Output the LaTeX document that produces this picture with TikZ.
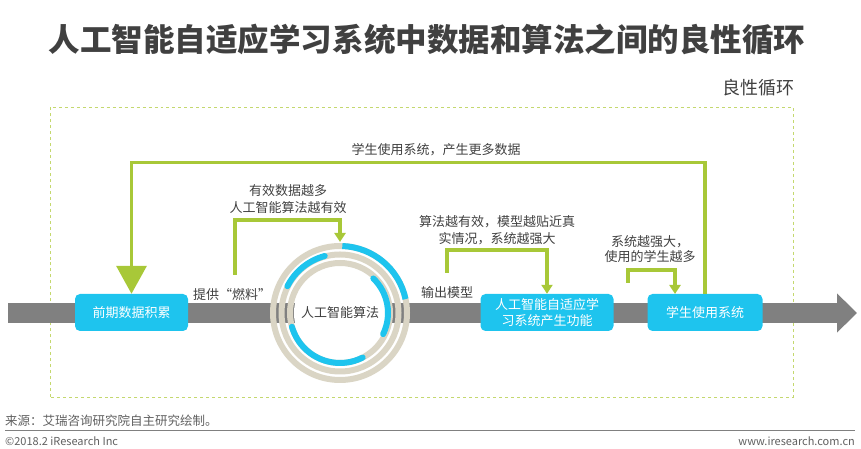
\documentclass[tikz,border=0pt]{standalone}
\usepackage{fontspec}
\setmainfont{Noto Sans CJK SC}
\usepackage{tikz}
\usetikzlibrary{arrows,arrows.meta,positioning}

\definecolor{txt}{RGB}{64,64,64}
\definecolor{bargray}{RGB}{128,128,128}
\definecolor{skyblue}{RGB}{30,196,238}
\definecolor{leaf}{RGB}{168,200,56}
\definecolor{frameleaf}{RGB}{196,216,110}
\definecolor{sand}{RGB}{218,213,197}
\definecolor{footgray}{RGB}{96,96,96}

\begin{document}
\begin{tikzpicture}[x=1bp,y=1bp,>=stealth',auto]
		\tikzstyle{box}=[rectangle, rounded corners=5bp, fill=skyblue, text=white, minimum height=37bp, inner sep=0pt, align=center, font=\fontsize{13bp}{16bp}\selectfont]
		\tikzstyle{lbl}=[inner sep=0pt, align=center, text=txt, font=\fontsize{13bp}{17bp}\selectfont]
		\tikzstyle{foot}=[inner sep=0pt, text=footgray, font=\fontsize{11bp}{13bp}\selectfont]
		\tikzstyle{flow}=[draw=bargray, line width=20bp, -{Triangle[length=20bp,width=38bp]}]
		\tikzstyle{feed}=[draw=leaf, line width=3.5bp, -{Triangle[length=9bp,width=11bp]}]
		\tikzstyle{bigfeed}=[draw=leaf, line width=3.5bp, -{Triangle[length=28bp,width=30bp]}]
		\tikzstyle{ring}=[draw=sand, line width=6bp]
		\tikzstyle{arcb}=[draw=skyblue, line width=6bp, line cap=round]

		\useasboundingbox (0,0) rectangle (861,449);

		% title
		\node [inner sep=0pt, text=txt, font=\fontsize{31.5bp}{34bp}\selectfont\bfseries] (title) at (427,409) {人工智能自适应学习系统中数据和算法之间的良性循环};
		\node [lbl, anchor=east, font=\fontsize{18bp}{20bp}\selectfont] (cyc) at (795,361) {良性循环};
		\draw [frameleaf, dashed, line width=0.8bp] (50,52) rectangle (793,342);

		% main flow
		\coordinate (s) at (8,136);
		\coordinate (e) at (857,136);
		\draw [flow] (s) -- (e);

		% algorithm rings
		\node [circle, fill=white, minimum size=92bp, inner sep=0pt, lbl] (ai) at (340,136) {人工智能算法};
		\draw [ring] (ai.center) circle (67);
		\draw [ring] (ai.center) circle (58.5);
		\draw [ring] (ai.center) circle (50);
		\draw [arcb, line cap=butt] (ai.center) ++(88:67) arc[start angle=88, end angle=12, radius=67];
		\draw [arcb] (ai.center) ++(105:59) arc[start angle=105, end angle=153, radius=59];
		\draw [arcb] (ai.center) ++(46:48) arc[start angle=46, end angle=-26, radius=48];
		\draw [arcb] (ai.center) ++(196:50) arc[start angle=196, end angle=297, radius=50];
		\coordinate (r1) at (340,207);

		% stages
		\node [box, minimum width=113bp] (b1) at (131.5,136.5) {前期数据积累};
		\node [box, minimum width=133bp] (b2) at (547,136.5) {人工智能自适应学\\习系统产生功能};
		\node [box, minimum width=115bp] (b3) at (705,136.5) {学生使用系统};

		% feedback loops
		\coordinate (f2) at (235,174);
		\coordinate (f3) at (447,176);
		\coordinate (f4) at (628,166);
		\coordinate (t4) at (675,155);
		\draw [bigfeed] (b3.north) -- ++(0,131.5) -| (b1.north);
		\draw [feed] (f2) -- ++(0,55) -| (r1);
		\draw [feed] (f3) -- ++(0,23) -| (b2.north);
		\draw [feed] (f4) -- ++(0,13) -| (t4);

		% labels
		\node [lbl] (l1) at (436,299) {学生使用系统，产生更多数据};
		\node [lbl] (l2) at (288,249.5) {有效数据越多\\人工智能算法越有效};
		\node [lbl] (fuel) at (232,154) {提供“燃料”};
		\node [lbl] (l3) at (497,218.5) {算法越有效，模型越贴近真\\实情况，系统越强大};
		\node [lbl] (out) at (447,156) {输出模型};
		\node [lbl, font=\fontsize{13bp}{15bp}\selectfont] (l4) at (650,199.5) {系统越强大，\\使用的学生越多};

		% footer
		\node [foot, anchor=west, font=\fontsize{12.5bp}{14bp}\selectfont] (src) at (5,28) {来源：艾瑞咨询研究院自主研究绘制。};
		\draw [bargray, line width=0.8bp] (5,19) -- (855,19);
		\node [foot, anchor=west] (copy) at (5,8) {©2018.2 iResearch Inc};
		\node [foot, anchor=east] (web) at (855,8) {www.iresearch.com.cn};
	\end{tikzpicture}
\end{document}
